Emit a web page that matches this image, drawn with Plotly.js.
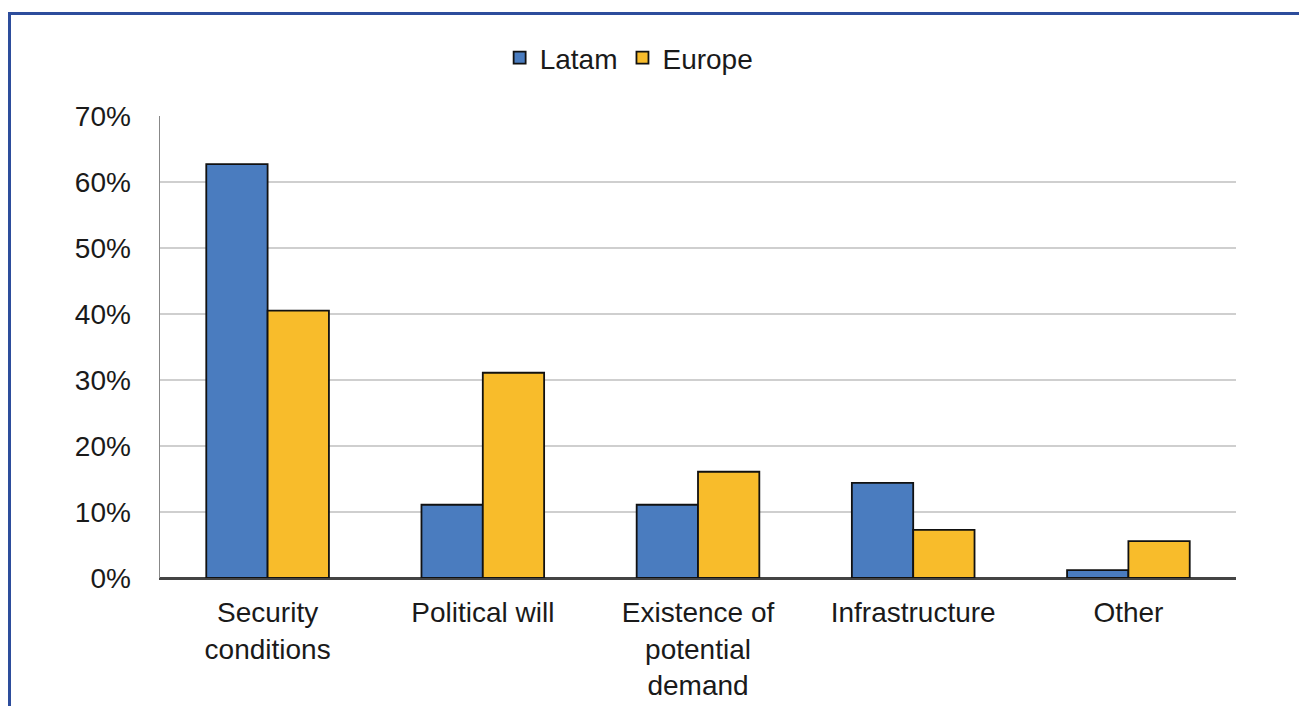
<!DOCTYPE html>
<html>
<head>
<meta charset="utf-8">
<script src="https://cdn.plot.ly/plotly-3.0.1.min.js"></script>
<style>
  html, body { margin: 0; padding: 0; background: #fff; }
  #wrap { position: relative; width: 1299px; height: 706px; overflow: hidden; }
  #chart { width: 1299px; height: 706px; }
  #frame { position: absolute; left: 8px; top: 12px; width: 1400px; height: 800px;
           border-left: 3px solid #2D4D9C; border-top: 3px solid #2D4D9C; pointer-events: none; }
</style>
</head>
<body>
<div id="wrap">
  <div id="chart"></div>
  <div id="frame"></div>
</div>
<script>
const categories = ["Security<br>conditions", "Political will", "Existence of<br>potential<br>demand", "Infrastructure", "Other"];
const latam = [0.627, 0.111, 0.111, 0.144, 0.012];
const europe = [0.405, 0.311, 0.161, 0.073, 0.056];
const tickVals = [0, 0.1, 0.2, 0.3, 0.4, 0.5, 0.6, 0.7];
const tickText = ["0%", "10%", "20%", "30%", "40%", "50%", "60%", "70%"];

const font = { family: "Liberation Sans, Arial, sans-serif", size: 28, color: "#1a1a1a" };

const traces = [
  { type: "bar", name: "Latam", x: categories, y: latam,
    marker: { color: "#4A7CBF", line: { color: "#111", width: 1.8 } } },
  { type: "bar", name: "Europe", x: categories, y: europe,
    marker: { color: "#F8BC2B", line: { color: "#111", width: 1.8 } } }
];

const layout = {
  width: 1299, height: 706,
  margin: { l: 160, r: 63, t: 116, b: 128 },
  paper_bgcolor: "#fff", plot_bgcolor: "#fff",
  font: font,
  barmode: "group",
  bargap: 0.43, bargroupgap: 0,
  showlegend: true,
  legend: { orientation: "h", x: 0.436, xanchor: "center", y: 1.1255, yanchor: "middle",
            font: font, itemwidth: 30, tracegroupgap: 0 },
  xaxis: { type: "category", showgrid: false, showline: true, linecolor: "#444", linewidth: 1.5,
           ticks: "", tickfont: font, ticklabelstandoff: 9 },
  yaxis: { range: [0, 0.7], tickvals: tickVals, ticktext: tickText, showgrid: true,
           gridcolor: "#cfcfcf", gridwidth: 1.2, showline: true, linecolor: "#888", linewidth: 1.5,
           zeroline: true, zerolinecolor: "#444", zerolinewidth: 1.5,
           ticks: "", tickfont: font, ticklabelstandoff: 22 }
};

Plotly.newPlot("chart", traces, layout, { displayModeBar: false, staticPlot: true });
</script>
</body>
</html>
